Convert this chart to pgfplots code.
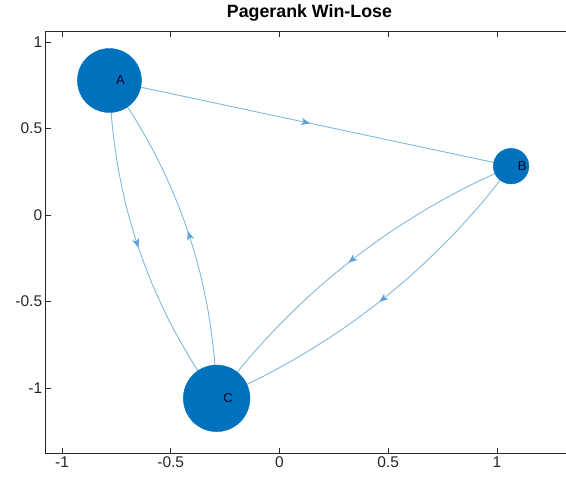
\documentclass[border=0pt]{standalone}
\usepackage{fontspec}
\setmainfont{Liberation Sans}
\usepackage{pgfplots}
\pgfplotsset{compat=1.18}
\usetikzlibrary{arrows.meta,decorations.markings}
\definecolor{axgray}{rgb}{0.15,0.15,0.15}
\definecolor{nodeblue}{rgb}{0,0.447,0.741}
\definecolor{edgeblue}{rgb}{0.5,0.72,0.87}
\definecolor{arrowblue}{rgb}{0.35,0.63,0.84}
\tikzset{midarrow/.style={postaction={decorate},
  decoration={markings, mark=at position 0.5 with {\arrow[arrowblue]{Stealth[length=9pt,width=7pt,inset=2.5pt]}}}}}
\pgfplotsset{gnode/.style={only marks, mark=*, mark options={fill=nodeblue, draw=nodeblue},
  point meta=explicit symbolic, nodes near coords,
  every node near coord/.style={anchor=west, inner sep=0pt, xshift=6.5pt,
    font=\fontsize{13}{15}\selectfont, text=black!85!blue}}}
\begin{document}
\begin{tikzpicture}
\path[use as bounding box, clip] (-45.7pt,-26pt) rectangle (520.3pt,453pt);
\begin{axis}[
  scale only axis, width=527.4pt, height=421.1pt,
  xmin=-1.075, xmax=1.35, ymin=-1.376, ymax=1.058,
  axis line style={axgray, line width=0.8pt},
  tick style={axgray, line width=0.8pt},
  major tick length=5pt,
  tick align=inside,
  xtick={-1,-0.5,0,0.5,1}, xticklabels={-1,-0.5,0,0.5,1},
  ytick={-1,-0.5,0,0.5,1}, yticklabels={-1,-0.5,0,0.5,1},
  ticklabel style={font=\fontsize{15.5}{18}\selectfont, text=axgray},
  title={Pagerank Win-Lose},
  title style={font=\fontsize{17.8}{20}\selectfont\bfseries, at={(0.5,1)}, anchor=base, yshift=8.6pt},
]
% edges
\addplot[edgeblue, line width=0.9pt, midarrow] coordinates {(-0.782,0.777) (1.065,0.282)};
\addplot[edgeblue, line width=0.9pt, smooth, midarrow] coordinates {
  (-0.782,0.777) (-0.7696,0.5269) (-0.7434,0.2823) (-0.7031,0.0436) (-0.6485,-0.1890)
  (-0.5798,-0.4157) (-0.4970,-0.6362) (-0.4000,-0.8509) (-0.289,-1.060)};
\addplot[edgeblue, line width=0.9pt, smooth, midarrow] coordinates {
  (-0.289,-1.060) (-0.3008,-0.8090) (-0.3270,-0.5643) (-0.3673,-0.3257) (-0.4218,-0.0931)
  (-0.4906,0.1335) (-0.5734,0.3542) (-0.6704,0.5688) (-0.782,0.777)};
\addplot[edgeblue, line width=0.9pt, smooth, midarrow] coordinates {
  (1.065,0.282) (0.8649,0.1640) (0.6734,0.0317) (0.4908,-0.1147) (0.3172,-0.2753)
  (0.1523,-0.4501) (-0.0036,-0.6391) (-0.1506,-0.8423) (-0.289,-1.060)};
\addplot[edgeblue, line width=0.9pt, smooth, midarrow] coordinates {
  (1.065,0.282) (0.9272,0.0647) (0.7801,-0.1384) (0.6242,-0.3273) (0.4594,-0.5022)
  (0.2857,-0.6628) (0.1031,-0.8092) (-0.0884,-0.9415) (-0.289,-1.060)};
% nodes
\addplot[gnode, mark size=32pt] coordinates {(-0.782,0.777) [A]};
\addplot[gnode, mark size=17.8pt] coordinates {(1.065,0.282) [B]};
\addplot[gnode, mark size=33.3pt] coordinates {(-0.289,-1.060) [C]};
\end{axis}
\end{tikzpicture}
\end{document}
